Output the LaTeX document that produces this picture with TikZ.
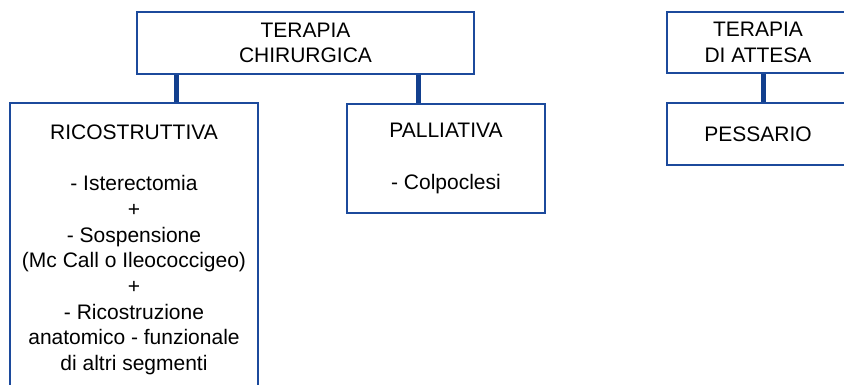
\documentclass[tikz,border=0pt]{standalone}
\usepackage{fontspec}
\setmainfont{Liberation Sans}
\definecolor{boxblue}{HTML}{1C4A9C}
\definecolor{linkblue}{HTML}{123F8E}
\begin{document}
\begin{tikzpicture}[x=1pt,y=-1pt,
  txt/.style={font=\fontsize{21}{25.67}\selectfont, text=black},
  panel/.style={txt, draw=boxblue, line width=2.8pt, fill=white,
    align=center, inner sep=0pt, minimum width=#1},
  link/.style={draw=linkblue, line width=5pt}]
\useasboundingbox (0,0) rectangle (844,385);
\clip (0,0) rectangle (844,385);

% surgical therapy branch
\node[panel=337pt, minimum height=62pt] (chir) at (305.5,43) {TERAPIA\\CHIRURGICA};
\node[panel=248pt, minimum height=294pt] (ricos) at (134,250)
  {RICOSTRUTTIVA\\[25.67pt]- Isterectomia\\+\\- Sospensione\\(Mc Call o Ileococcigeo)\\+\\- Ricostruzione\\anatomico - funzionale\\di altri segmenti};
\node[panel=198pt, minimum height=109pt] (pall) at (446,158.5) {PALLIATIVA\\[25.67pt]- Colpoclesi};

% waiting therapy branch
\node[panel=182pt, minimum height=61pt] (attesa) at (758,42.5) {TERAPIA\\DI ATTESA};
\node[panel=182pt, minimum height=62pt] (pess) at (758,134) {PESSARIO};

% connectors
\coordinate (jl) at (176,0);
\coordinate (jp) at (418,0);
\coordinate (ja) at (763,0);
\draw[link] (chir.south -| jl) -- (ricos.north -| jl);
\draw[link] (chir.south -| jp) -- (pall.north -| jp);
\draw[link] (attesa.south -| ja) -- (pess.north -| ja);
\end{tikzpicture}
\end{document}
